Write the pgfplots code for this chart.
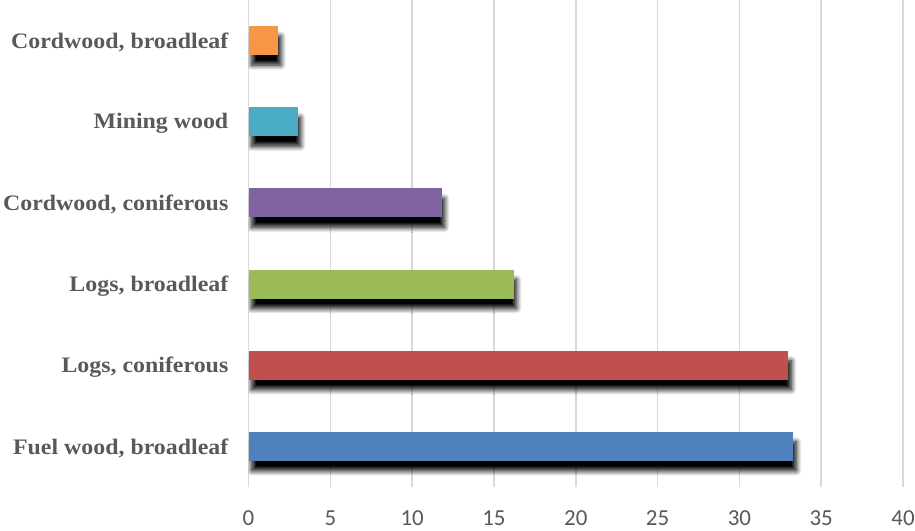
\documentclass[border=0pt]{standalone}
\usepackage{fontspec}
\setmainfont{Liberation Serif}
\newfontfamily\tickfont{Carlito}
\newfontfamily\labfont[FakeStretch=1.08]{Liberation Serif}
\usepackage{pgfplots}
\pgfplotsset{compat=1.18}
\usetikzlibrary{shadows.blur}
\definecolor{cOrange}{HTML}{F79646}
\definecolor{cCyan}{HTML}{4BACC6}
\definecolor{cPurple}{HTML}{8064A2}
\definecolor{cGreen}{HTML}{9BBB59}
\definecolor{cRed}{HTML}{C0504D}
\definecolor{cBlue}{HTML}{4F81BD}
\definecolor{gridgray}{HTML}{D9D9D9}
\definecolor{labelgray}{HTML}{595959}
\begin{document}
\begin{tikzpicture}
\useasboundingbox (0bp,0bp) rectangle (915bp,531bp);
\begin{axis}[
  at={(248.5bp,44bp)}, anchor=south west,
  scale only axis, width=654.5bp, height=487bp,
  xmin=0, xmax=40, ymin=-0.5, ymax=5.5,
  xtick={0,5,...,40}, ytick={0,1,2,3,4,5},
  yticklabels={{Fuel wood, broadleaf}, {Logs, coniferous}, {Logs, broadleaf}, {Cordwood, coniferous}, {Mining wood}, {Cordwood, broadleaf}},
  xbar, bar width=29bp, bar shift=0pt,
  xmajorgrids, ymajorgrids=false,
  grid style={draw=gridgray, line width=1.5bp},
  axis line style={draw=none},
  major tick length=0pt,
  /pgf/number format/assume math mode=true,
  xticklabel style={font=\tickfont\fontsize{23}{23}\selectfont, text=labelgray, inner sep=0pt, anchor=base, yshift=-38bp},
  yticklabel style={font=\labfont\bfseries\fontsize{22.2}{22.2}\selectfont, text=labelgray, inner sep=0pt, anchor=east, xshift=-20bp, yshift=-2bp},
  every axis plot/.append style={draw=none, blur shadow={shadow xshift=3bp, shadow yshift=-10bp, shadow opacity=100, shadow blur radius=5bp, shadow blur steps=12}},
]
\addplot[fill=cBlue] coordinates {(33.3,0)};
\addplot[fill=cRed] coordinates {(33.0,1)};
\addplot[fill=cGreen] coordinates {(16.2,2)};
\addplot[fill=cPurple] coordinates {(11.8,3)};
\addplot[fill=cCyan] coordinates {(3.0,4)};
\addplot[fill=cOrange] coordinates {(1.8,5)};
\end{axis}
\end{tikzpicture}
\end{document}
